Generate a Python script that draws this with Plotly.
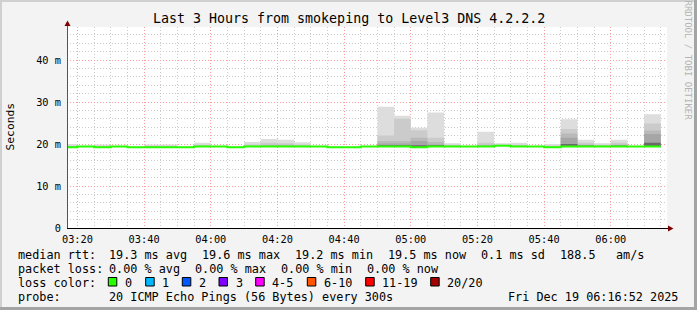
import plotly.graph_objects as go
import pandas as pd

# ---------------- data (milliseconds) ----------------
bin_start = pd.date_range("2025-12-19 03:15", periods=36, freq="5min")
median_ms = [19.2, 19.4, 19.2, 19.4, 19.2, 19.2, 19.2, 19.2, 19.4, 19.4, 19.2, 19.4,
             19.4, 19.4, 19.4, 19.4, 19.2, 19.2, 19.4, 19.4, 19.4, 19.2, 19.4, 19.4,
             19.4, 19.4, 19.6, 19.4, 19.4, 19.2, 19.4, 19.4, 19.4, 19.4, 19.4, 19.4]
# smoke layers: upper ping values, from outer (max) to inner
smoke_1 = [20.0, 19.6, 19.9, 19.6, 19.4, 19.9, 19.9, 19.4, 20.3, 19.6, 19.4, 20.5,
           21.2, 21.0, 20.4, 19.6, 19.4, 19.4, 19.6, 28.9, 26.7, 23.9, 27.5, 20.2,
           19.6, 22.9, 20.2, 20.3, 19.6, 20.0, 25.9, 21.0, 20.2, 21.0, 19.6, 27.1]
smoke_2 = [19.6, 19.5, 19.6, 19.5, 19.3, 19.6, 19.6, 19.3, 19.8, 19.5, 19.3, 19.9,
           20.3, 20.2, 19.9, 19.5, 19.3, 19.3, 19.5, 22.0, 26.0, 23.3, 21.5, 19.8,
           19.5, 20.3, 19.9, 19.8, 19.5, 19.6, 23.6, 20.3, 19.8, 20.3, 19.5, 24.9]
smoke_3 = [19.4, 19.4, 19.4, 19.4, 19.2, 19.4, 19.4, 19.2, 19.5, 19.4, 19.2, 19.6,
           19.8, 19.8, 19.6, 19.4, 19.2, 19.2, 19.4, 20.7, 20.7, 21.5, 20.5, 19.6,
           19.4, 19.8, 19.7, 19.6, 19.4, 19.4, 22.5, 19.9, 19.6, 19.9, 19.4, 23.2]
smoke_4 = [19.3, 19.4, 19.3, 19.4, 19.2, 19.3, 19.3, 19.2, 19.4, 19.4, 19.2, 19.5,
           19.6, 19.6, 19.5, 19.4, 19.2, 19.2, 19.4, 20.1, 20.1, 20.7, 19.9, 19.5,
           19.4, 19.6, 19.6, 19.5, 19.4, 19.3, 21.5, 19.7, 19.5, 19.7, 19.4, 22.4]
smoke_5 = [19.2, 19.4, 19.2, 19.4, 19.2, 19.2, 19.2, 19.2, 19.4, 19.4, 19.2, 19.4,
           19.5, 19.5, 19.4, 19.4, 19.2, 19.2, 19.4, 19.7, 19.7, 19.7, 19.7, 19.4,
           19.4, 19.5, 19.6, 19.4, 19.4, 19.2, 20.0, 19.6, 19.4, 19.6, 19.4, 20.3]
smoke_layers = [smoke_1, smoke_2, smoke_3, smoke_4, smoke_5]
smoke_colors = ["#dddddd", "#cbcbcb", "#b9b9b9", "#a6a6a6", "#6a6a6a"]

y_tickvals = [0, 10, 20, 30, 40]
y_ticktext = ["0", "10 m", "20 m", "30 m", "40 m"]

title_text = "Last 3 Hours from smokeping to Level3 DNS 4.2.2.2"
median_items = ["median rtt:", "19.3 ms avg", "19.6 ms max", "19.2 ms min", "19.5 ms now",
                "0.1 ms sd", "188.5", "am/s"]
loss_items = ["packet loss:", "0.00 % avg", "0.00 % max", "0.00 % min", "0.00 % now"]
probe_items = ["probe:", "20 ICMP Echo Pings (56 Bytes) every 300s"]
date_text = "Fri Dec 19 06:16:52 2025"
loss_labels = ["0", "1", "2", "3", "4-5", "6-10", "11-19", "20/20"]
loss_colors = ["#26ff00", "#00b8ff", "#0059ff", "#7e00ff", "#ff00ff", "#ff5500", "#ff0000", "#a00000"]

# ---------------- layout geometry ----------------
W, H = 697, 310
L, R, T, B = 67, 30, 27, 82
PW, PH = W - L - R, H - T - B
def fx(px): return (px - L) / PW
def fy(py): return (H - B - py) / PH

median_x = [16, 107, 200, 293, 386, 479, 558, 614]
loss_x = [16, 107, 193, 279, 365]
probe_x = [16, 107]
box_left = [108.3, 145.7, 182.3, 219, 255.7, 307.3, 365.7, 430.7]

MONO = "DejaVu Sans Mono"
xs = list(bin_start) + [bin_start[-1] + pd.Timedelta(minutes=5)]
def step(v): return list(v) + [v[-1]]

fig = go.Figure()
for layer, col in zip(smoke_layers, smoke_colors):
    fig.add_trace(go.Scatter(x=xs, y=step(median_ms), mode="lines", line=dict(width=0, shape="hv"),
                             showlegend=False, hoverinfo="skip"))
    fig.add_trace(go.Scatter(x=xs, y=step(layer), mode="lines", line=dict(width=0, shape="hv"),
                             fill="tonexty", fillcolor=col, showlegend=False, hoverinfo="skip"))
fig.add_trace(go.Scatter(x=xs, y=step(median_ms), mode="lines",
                         line=dict(width=2, color="#26ff00", shape="hv"), showlegend=False))

shapes = []
def rect(x0, x1, y0, y1, fill, line=None):
    shapes.append(dict(type="rect", xref="paper", yref="paper", x0=fx(x0), x1=fx(x1), y0=fy(y1), y1=fy(y0),
                       fillcolor=fill, line=line or dict(width=0), layer="above"))
# frame
rect(0, W, 0, 2, "#d0d0d0")
rect(0, 2, 0, H, "#d0d0d0")
rect(0, W, H - 3, H, "#a4a4a4")
rect(W - 3, W, 0, H, "#a4a4a4")
# axes lines
shapes.append(dict(type="line", xref="paper", yref="paper", x0=fx(67.5), x1=fx(67.5), y0=fy(228), y1=fy(23),
                   line=dict(color="#555555", width=1), layer="above"))
shapes.append(dict(type="line", xref="paper", yref="paper", x0=fx(67), x1=fx(670), y0=fy(228.5), y1=fy(228.5),
                   line=dict(color="#000000", width=1), layer="above"))
# arrows
shapes.append(dict(type="path", xref="paper", yref="paper",
                   path=f"M {fx(64.5)},{fy(26)} L {fx(70.5)},{fy(26)} L {fx(67.5)},{fy(20.5)} Z",
                   fillcolor="#7f0000", line=dict(width=0), layer="above"))
shapes.append(dict(type="path", xref="paper", yref="paper",
                   path=f"M {fx(668)},{fy(225.5)} L {fx(668)},{fy(231.5)} L {fx(673.5)},{fy(228.5)} Z",
                   fillcolor="#7f0000", line=dict(width=0), layer="above"))
# loss color boxes
for bx, col in zip(box_left, loss_colors):
    rect(bx, bx + 8.5, 277.5, 286, col, dict(color="#000000", width=1))

def nb(s): return s.replace(" ", "\u00a0")
ann = []
def text(px, py, s, size=11.8, anchor="left", color="#000000", angle=0):
    ann.append(dict(x=fx(px), y=fy(py), xref="paper", yref="paper", text=nb(s), showarrow=False,
                    xanchor=anchor, yanchor="middle", textangle=angle,
                    font=dict(family=MONO, size=size, color=color)))

text(W / 2, 18.5, title_text, size=13.3, anchor="center")
for px, s in zip(median_x, median_items):
    text(px, 255, s)
for px, s in zip(loss_x, loss_items):
    text(px, 269, s)
text(16, 283, "loss color:")
for bx, lab in zip(box_left, loss_labels):
    text(bx + 14.5, 283, lab)
for px, s in zip(probe_x, probe_items):
    text(px, 297, s)
text(680, 297, date_text, anchor="right")
text(10.5, 127, "Seconds", size=11.3, anchor="center", angle=-90)
text(687.5, 60, "RRDTOOL / TOBI OETIKER", size=9, anchor="center", color="#b4b4b4", angle=90)

fig.update_layout(
    width=W, height=H, margin=dict(l=L, r=R, t=T, b=B),
    paper_bgcolor="#f3f3f3", plot_bgcolor="#ffffff",
    shapes=shapes, annotations=ann, showlegend=False,
    xaxis=dict(type="date", range=["2025-12-19 03:16:52", "2025-12-19 06:16:52"],
               tickformat="%H:%M", dtick=1200000, tick0="2025-12-19 00:00",
               showgrid=True, gridcolor="#ff9d9d", griddash="1px,2px", gridwidth=1,
               zeroline=False, showline=False, ticks="outside", ticklen=2, tickcolor="rgba(0,0,0,0)",
               tickfont=dict(family=MONO, size=10.3, color="#000000"),
               minor=dict(dtick=300000, showgrid=True, gridcolor="#cccccc", griddash="1px,2px", ticks="")),
    yaxis=dict(range=[0, 47.86], tickvals=y_tickvals, ticktext=y_ticktext,
               showgrid=True, gridcolor="#ff9d9d", griddash="1px,2px", gridwidth=1,
               zeroline=False, showline=False, ticks="outside", ticklen=3, tickcolor="rgba(0,0,0,0)",
               tickfont=dict(family=MONO, size=10.3, color="#000000"),
               minor=dict(dtick=2, showgrid=True, gridcolor="#cccccc", griddash="1px,2px", ticks="")),
)
fig.write_html("out.html")
